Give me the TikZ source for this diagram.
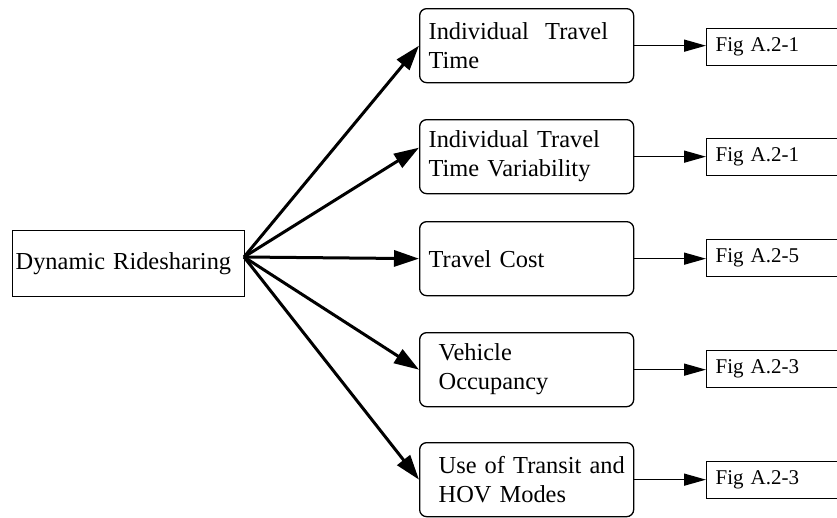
\documentclass[tikz,border=0pt]{standalone}
\usepackage{fontspec}
\setmainfont{Liberation Serif}
\usetikzlibrary{arrows.meta,calc}
\begin{document}
\begin{tikzpicture}[x=1pt,y=-1pt,
  srcbox/.style={draw, line width=1.3pt, anchor=north west, minimum height=66pt,
    text width=226pt, inner xsep=3pt, align=left,
    font=\fontsize{24.4}{29}\selectfont},
  effectbox/.style={draw, line width=1.3pt, rounded corners=7pt, anchor=north west,
    minimum height=74pt, text width=196pt, inner xsep=9pt, align=left,
    font=\fontsize{24.4}{29}\selectfont},
  figbox/.style={draw, line width=1.3pt, anchor=north west, minimum height=37pt,
    text width=150pt, inner xsep=9pt, align=left,
    font=\fontsize{21}{25}\selectfont},
  fanarrow/.style={line width=3pt, -{Triangle[length=25pt,width=16pt]}},
  figarrow/.style={line width=1.5pt, -{Triangle[length=22pt,width=12pt]}}
]
\useasboundingbox (0,0) rectangle (837,517);
\clip (0,0) rectangle (837,517);

% source
\node[srcbox] (d) at (12,230) {Dynamic Ridesharing};
\coordinate (src) at (244,257);

% effects (each line kept whole)
\node[effectbox] (m1) at (419,8)   {\mbox{Individual\ \ Travel}\\Time};
\node[effectbox] (m2) at (419,119) {\mbox{Individual Travel}\\\mbox{Time Variability}};
\node[effectbox] (m3) at (419,221) {\mbox{Travel Cost}};
\node[effectbox] (m4) at (419,332) {\hspace*{10pt}Vehicle\\\hspace*{10pt}Occupancy};
\node[effectbox] (m5) at (419,442) {\hspace*{10pt}\mbox{Use of Transit and}\\\hspace*{10pt}\mbox{HOV Modes}};

% figure references
\node[figbox] (f1) at (706,28)  {Fig A.2-1};
\node[figbox] (f2) at (706,138) {Fig A.2-1};
\node[figbox] (f3) at (706,239) {Fig A.2-5};
\node[figbox] (f4) at (706,350) {Fig A.2-3};
\node[figbox] (f5) at (706,461) {Fig A.2-3};

% fan of effects
\draw[fanarrow] (src) -- (m1.west);
\draw[fanarrow] (src) -- ($(m2.west)+(0,-9)$);
\draw[fanarrow] (src) -- (m3.west);
\draw[fanarrow] (src) -- (m4.west);
\draw[fanarrow] (src) -- (m5.west);

% links to figures
\foreach \i in {1,...,5}
  \draw[figarrow] (m\i.east) -- (m\i.east -| f\i.west);
\end{tikzpicture}
\end{document}
